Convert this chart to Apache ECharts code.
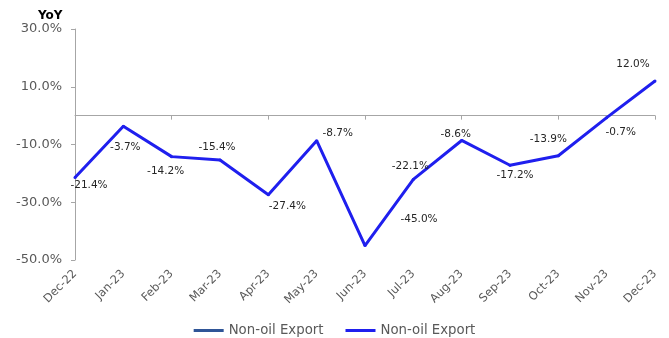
<!DOCTYPE html>
<html>
<head>
<meta charset="utf-8">
<script src="https://cdn.jsdelivr.net/npm/echarts@6/dist/echarts.min.js"></script>
<style>
  html, body { margin: 0; padding: 0; background: #ffffff; }
  #chart { width: 669px; height: 338px; }
</style>
</head>
<body>
<div id="chart"></div>
<script>
// Monthly year-on-year change of non-oil exports (%)
const months = ['Dec-22', 'Jan-23', 'Feb-23', 'Mar-23', 'Apr-23', 'May-23', 'Jun-23',
                'Jul-23', 'Aug-23', 'Sep-23', 'Oct-23', 'Nov-23', 'Dec-23'];
const nonOilExportYoY = [-21.4, -3.7, -14.2, -15.4, -27.4, -8.7, -45.0,
                         -22.1, -8.6, -17.2, -13.9, -0.7, 12.0];
const yTicks = { min: -50, max: 30, step: 20 };
const seriesNames = ['Non-oil Export', 'Non-oil Export'];

// Where each value label sits relative to its point (px)
const labelShift = [[14, 8], [2, 21], [-6, 15], [-3, -13], [19, 12], [21, -7], [54, -26],
                    [-3, -13], [-6, -6], [5, 10], [-10, -16], [14, 15], [-22, -17]];

const FONT = 'DejaVu Sans';
const GREY_TEXT = '#595959';
const AXIS_GREY = '#a6a6a6';
const LINE_BLUE = '#1f1fee';
const NAVY = '#2f5597';

const chart = echarts.init(document.getElementById('chart'), null, { renderer: 'canvas' });

const points = nonOilExportYoY.map((v, i) => ({
  value: v,
  label: { offset: labelShift[i] }
}));

chart.setOption({
  animation: false,
  backgroundColor: '#ffffff',
  title: {
    text: 'YoY',
    left: 33,
    top: 5,
    textStyle: { fontFamily: FONT, fontWeight: 'bold', fontSize: 12, color: '#000000' }
  },
  grid: { left: 75, right: 14, top: 29, bottom: 78, containLabel: false },
  legend: {
    left: 'center',
    top: 319,
    icon: 'rect',
    itemWidth: 30,
    itemHeight: 3,
    itemGap: 22,
    textStyle: { fontFamily: FONT, fontSize: 13.3, color: GREY_TEXT },
    data: [
      { name: 'base', itemStyle: { color: NAVY } },
      { name: 'main', itemStyle: { color: LINE_BLUE } }
    ],
    formatter: name => (name === 'base' ? seriesNames[0] : seriesNames[1])
  },
  xAxis: [
    {
      type: 'category',
      data: months,
      boundaryGap: false,
      axisLine: { onZero: true, lineStyle: { color: AXIS_GREY, width: 1 } },
      axisTick: { show: true, length: 4, lineStyle: { color: AXIS_GREY } },
      axisLabel: { show: false },
      splitLine: { show: false }
    },
    {
      type: 'category',
      data: months,
      boundaryGap: false,
      position: 'bottom',
      axisLine: { show: false, onZero: false },
      axisTick: { show: false },
      axisLabel: {
        rotate: 45,
        margin: 12,
        interval: 0,
        fontFamily: FONT,
        fontSize: 11.5,
        color: GREY_TEXT
      },
      splitLine: { show: false }
    }
  ],
  yAxis: {
    type: 'value',
    min: yTicks.min,
    max: yTicks.max,
    interval: yTicks.step,
    axisLine: { show: true, lineStyle: { color: AXIS_GREY, width: 1 } },
    axisTick: { show: true, length: 4, lineStyle: { color: AXIS_GREY } },
    splitLine: { show: false },
    axisLabel: {
      margin: 13,
      fontFamily: FONT,
      fontSize: 13,
      color: GREY_TEXT,
      formatter: v => v.toFixed(1) + '%'
    }
  },
  series: [
    {
      name: 'base',
      type: 'line',
      data: [],
      itemStyle: { color: NAVY },
      lineStyle: { color: NAVY, width: 3 }
    },
    {
      name: 'main',
      type: 'line',
      data: points,
      symbol: 'circle',
      symbolSize: 3,
      itemStyle: { color: LINE_BLUE, borderWidth: 0 },
      lineStyle: { color: LINE_BLUE, width: 3 },
      emphasis: { disabled: true },
      label: {
        show: true,
        position: 'inside',
        fontFamily: FONT,
        fontSize: 10.5,
        color: '#262626',
        formatter: p => p.value.toFixed(1) + '%'
      }
    }
  ]
});
</script>
</body>
</html>
